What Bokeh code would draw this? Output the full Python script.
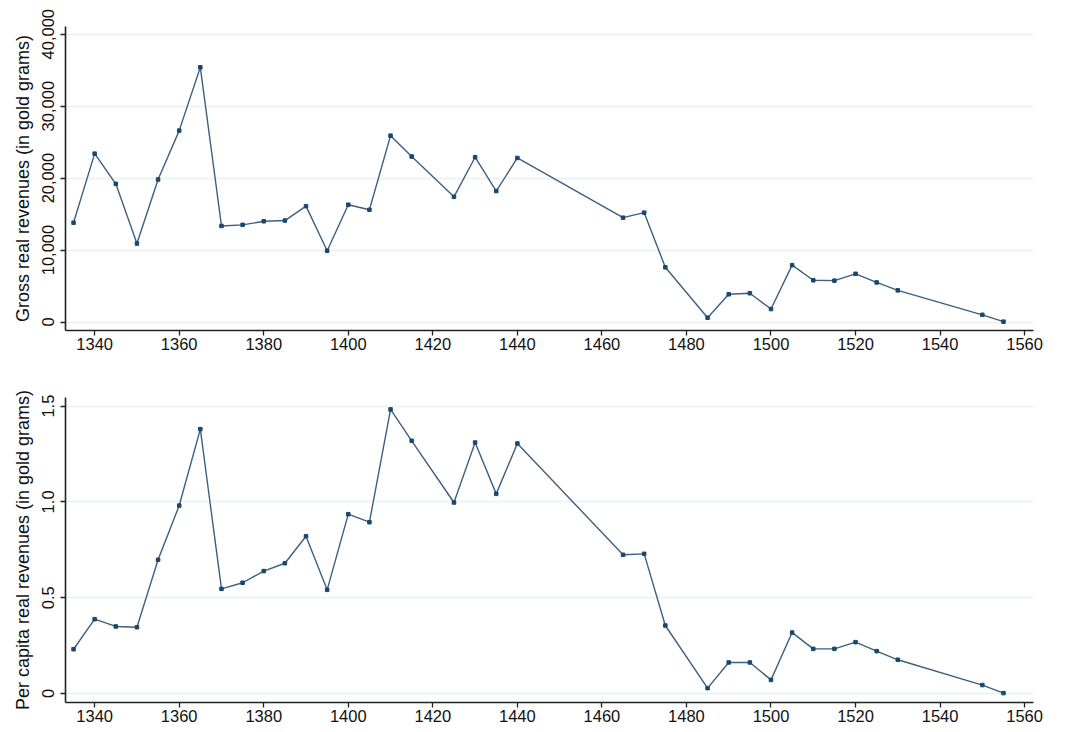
from bokeh.plotting import figure
from bokeh.layouts import column
from bokeh.models import Range1d, FixedTicker, NumeralTickFormatter
from bokeh.embed import file_html
from bokeh.resources import INLINE

years = [1335, 1340, 1345, 1350, 1355, 1360, 1365, 1370, 1375, 1380, 1385, 1390,
         1395, 1400, 1405, 1410, 1415, 1425, 1430, 1435, 1440, 1465, 1470, 1475,
         1485, 1490, 1495, 1500, 1505, 1510, 1515, 1520, 1525, 1530, 1550, 1555]

gross = [13800, 23400, 19200, 10900, 19800, 26600, 35400, 13350, 13500, 14000,
         14100, 16100, 9900, 16300, 15600, 25900, 23000, 17400, 22900, 18200,
         22800, 14500, 15200, 7600, 600, 3850, 4000, 1800, 7900, 5800, 5750,
         6700, 5500, 4400, 1000, 50]

per_capita = [0.231, 0.388, 0.350, 0.346, 0.698, 0.981, 1.380, 0.546, 0.578,
              0.639, 0.680, 0.821, 0.541, 0.936, 0.894, 1.483, 1.319, 0.997,
              1.310, 1.042, 1.305, 0.724, 0.729, 0.355, 0.028, 0.162, 0.162,
              0.071, 0.318, 0.233, 0.233, 0.268, 0.221, 0.176, 0.044, 0.002]

x_ticks = [1340, 1360, 1380, 1400, 1420, 1440, 1460, 1480, 1500, 1520, 1540, 1560]
gross_ticks = [0, 10000, 20000, 30000, 40000]
pc_ticks = [0, 0.5, 1.0, 1.5]
pc_tick_labels = ["0", "0.5", "1.0", "1.5"]

y_label_top = "Gross real revenues (in gold grams)"
y_label_bottom = "Per capita real revenues (in gold grams)"

LINE_COLOR = "#3d5f82"
MARK_COLOR = "#1a476f"
GRID_COLOR = "#edf3f6"
FONT = "Liberation Sans"


def make_fig(height, top, bottom, yr, yticks, ylabel, yvals):
    p = figure(width=1064, height=height, output_backend="svg",
               toolbar_location=None,
               x_range=Range1d(1333.1, 1562.1), y_range=Range1d(*yr),
               min_border_left=65, min_border_right=31,
               min_border_top=top, min_border_bottom=bottom)
    p.outline_line_color = None
    p.background_fill_color = "white"
    p.border_fill_color = "white"
    p.xgrid.grid_line_color = None
    p.ygrid.grid_line_color = GRID_COLOR
    p.ygrid.grid_line_width = 2
    p.ygrid.ticker = FixedTicker(ticks=yticks)

    p.xaxis.ticker = FixedTicker(ticks=x_ticks)
    p.yaxis.ticker = FixedTicker(ticks=yticks)
    for ax in (p.xaxis, p.yaxis):
        ax.axis_line_color = "#222222"
        ax.axis_line_width = 1.6
        ax.major_tick_line_color = "#222222"
        ax.major_tick_line_width = 1.3
        ax.major_tick_out = 5
        ax.major_tick_in = 0
        ax.minor_tick_line_color = None
        ax.major_label_text_font = FONT
        ax.major_label_text_font_size = "16.5px"
        ax.major_label_text_color = "#111111"
        ax.axis_label_text_font = FONT
        ax.axis_label_text_font_size = "18px"
        ax.axis_label_text_font_style = "normal"
        ax.axis_label_text_color = "#111111"
    p.xaxis.major_label_standoff = 2
    p.yaxis.major_label_standoff = 6
    p.yaxis.major_label_orientation = "vertical"
    p.yaxis.axis_label = ylabel
    p.yaxis.axis_label_standoff = 7

    p.line(years, yvals, line_color=LINE_COLOR, line_width=1.4)
    p.scatter(years, yvals, marker="square", size=3.5, fill_color=MARK_COLOR,
              line_color=MARK_COLOR)
    return p


p1 = make_fig(364, 26, 34, (-1181, 41070), gross_ticks, y_label_top, gross)
p1.yaxis.formatter = NumeralTickFormatter(format="0,0")

p2 = make_fig(366, 33, 28, (-0.047, 1.545), pc_ticks, y_label_bottom, per_capita)
p2.yaxis.major_label_overrides = {t: s for t, s in zip(pc_ticks, pc_tick_labels)}

layout = column(p1, p2, spacing=0)

open("out.html", "w").write(file_html(layout, INLINE))
